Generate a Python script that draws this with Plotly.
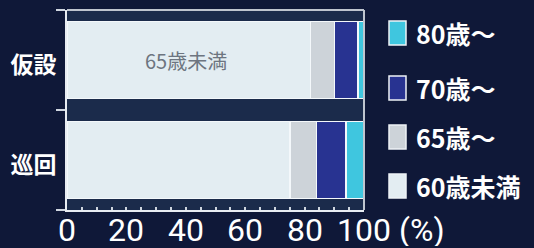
import plotly.graph_objects as go

categories = ["仮設", "巡回"]
series_names = ["60歳未満", "65歳〜", "70歳〜", "80歳〜"]
series_values = {
    "60歳未満": [82, 75],
    "65歳〜": [8, 9],
    "70歳〜": [8, 10],
    "80歳〜": [2, 6],
}
series_colors = {
    "60歳未満": "#e3edf2",
    "65歳〜": "#cdd3d9",
    "70歳〜": "#283391",
    "80歳〜": "#3fc6df",
}
x_ticks = [0, 20, 40, 60, 80, 100]
inner_label = "65歳未満"
unit_label = "(%)"

FONT = "Noto Sans CJK JP"

fig = go.Figure()
for name in series_names:
    fig.add_trace(go.Bar(
        y=categories, x=series_values[name], name=name, orientation="h",
        marker=dict(color=series_colors[name], line=dict(color="#f4f8fb", width=1.5)),
        width=0.77, showlegend=False, hoverinfo="skip",
    ))

fig.update_layout(
    width=534, height=248,
    margin=dict(l=67, r=170, t=10, b=38, autoexpand=False),
    barmode="stack",
    paper_bgcolor="#0f1838",
    plot_bgcolor="#1b2b4b",
    font=dict(family=FONT, color="white"),
    xaxis=dict(
        range=[0, 100], tickvals=x_ticks, showgrid=False, zeroline=False, automargin=False,
        showline=True, linecolor="#e8ecf2", linewidth=2, mirror=False,
        ticks="inside", ticklen=0, showticklabels=False,
        minor=dict(dtick=5, ticks="inside", ticklen=3, tickcolor="#cfd6e0", tickwidth=2),
    ),
    yaxis=dict(
        categoryorder="array", categoryarray=categories[::-1], automargin=False,
        showgrid=False, zeroline=False, showline=True, linecolor="#e8ecf2", linewidth=2,
        ticks="outside", tickson="boundaries", ticklen=9, tickcolor="#cfd6e0", tickwidth=2,
        ticklabelstandoff=4, ticklabelshift=5,
        tickfont=dict(size=23, color="white", family=FONT, weight="bold"),
    ),
)

# frame: top and right borders
fig.add_shape(type="line", xref="paper", yref="paper", x0=0, x1=1, y0=1, y1=1,
              line=dict(color="#bfc5cf", width=2))
fig.add_shape(type="line", xref="paper", yref="paper", x0=1, x1=1, y0=0, y1=1,
              line=dict(color="#bfc5cf", width=2))

fig.add_annotation(x=40, y=categories[0], xref="x", yref="y", text=inner_label,
                   showarrow=False, font=dict(size=20, color="#6d7580"))

# x tick labels (placed on the x scale)
lab_y = (210 - 230) / 200
for v in x_ticks:
    fig.add_annotation(x=v, y=lab_y, xref="x", yref="paper", text=str(v),
                       showarrow=False, xanchor="center", yanchor="middle",
                       height=32, borderpad=0,
                       font=dict(size=32, color="white", family="Roboto"))
fig.add_annotation(x=1.0, y=lab_y, xref="paper", yref="paper", text=unit_label,
                   showarrow=False, xanchor="left", yanchor="middle", xshift=34,
                   height=32, borderpad=0,
                   font=dict(size=32, color="white", family="Roboto"))

# legend (manual, reversed order)
leg_y = [33, 88, 137, 186]
for i, name in enumerate(series_names[::-1]):
    yc = (210 - leg_y[i]) / 200
    fig.add_shape(type="rect", xref="paper", yref="paper",
                  x0=(389 - 67) / 297, x1=(406 - 67) / 297,
                  y0=yc - 12 / 200, y1=yc + 12 / 200,
                  fillcolor=series_colors[name], line=dict(color="#eef2f6", width=1.5))
    fig.add_annotation(x=(414 - 67) / 297, y=yc,
                       xref="paper", yref="paper", text=name, showarrow=False,
                       xanchor="left", yanchor="middle",
                       font=dict(size=25, color="white", weight="bold"))

fig.write_html("out.html", config={"displayModeBar": False},
               post_script="document.body.style.margin='0';document.body.style.overflow='hidden';")
